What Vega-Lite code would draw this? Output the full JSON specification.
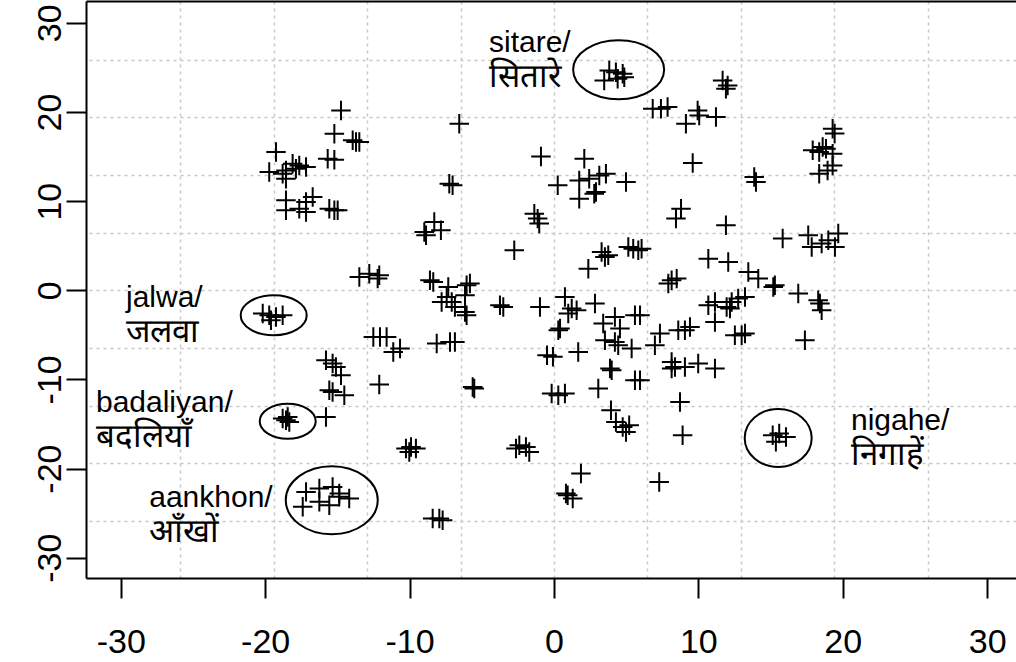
{
  "$schema": "https://vega.github.io/schema/vega-lite/v6.json",
  "width": 930,
  "height": 577,
  "autosize": {"type": "none"},
  "padding": {"left": 86, "top": 1, "right": 0, "bottom": 84},
  "background": "white",
  "config": {"view": {"stroke": null}, "font": "Liberation Sans"},
  "datasets": {
    "pts": [
      {"x": -14.75, "y": 20.18}, {"x": -15.21, "y": 17.57}, {"x": -13.94, "y": 16.82}, {"x": -13.71, "y": 16.63}, {"x": -13.48, "y": 16.63},
      {"x": -19.25, "y": 15.5}, {"x": -15.67, "y": 14.76}, {"x": -15.21, "y": 14.65}, {"x": -18.1, "y": 14.2}, {"x": -17.64, "y": 14.01},
      {"x": -17.17, "y": 13.82}, {"x": -18.56, "y": 13.45}, {"x": -17.87, "y": 13.64}, {"x": -19.72, "y": 13.26}, {"x": -18.79, "y": 13.08},
      {"x": -18.56, "y": 12.52}, {"x": -18.56, "y": 10.09}, {"x": -17.17, "y": 9.9}, {"x": -16.71, "y": 10.46}, {"x": -17.64, "y": 9.16},
      {"x": -17.17, "y": 8.78}, {"x": -18.56, "y": 8.97}, {"x": -15.56, "y": 9.16}, {"x": -15.21, "y": 8.97}, {"x": -14.98, "y": 8.97},
      {"x": -6.56, "y": 18.69}, {"x": -0.9, "y": 15.02}, {"x": -7.25, "y": 11.96}, {"x": -7.02, "y": 11.77}, {"x": -1.36, "y": 8.6},
      {"x": -1.13, "y": 8.04}, {"x": -1.02, "y": 7.48}, {"x": -2.75, "y": 4.48}, {"x": -8.29, "y": 7.66}, {"x": -7.83, "y": 6.73},
      {"x": -8.86, "y": 6.17}, {"x": -8.98, "y": 6.54}, {"x": -13.48, "y": 1.49}, {"x": -12.79, "y": 1.87}, {"x": -12.1, "y": 1.68},
      {"x": -12.21, "y": 1.31}, {"x": -8.59, "y": 1.12}, {"x": -8.36, "y": 0.93}, {"x": -7.32, "y": 0.37}, {"x": -6.05, "y": 0.56},
      {"x": -5.82, "y": 0.75}, {"x": -7.43, "y": -0.75}, {"x": -7.78, "y": -1.31}, {"x": -7.08, "y": -1.31}, {"x": -6.86, "y": -1.87},
      {"x": -6.16, "y": -0.56}, {"x": -6.16, "y": -2.43}, {"x": -6.05, "y": -2.8}, {"x": -3.74, "y": -1.68}, {"x": -3.51, "y": -1.87},
      {"x": -0.97, "y": -1.87}, {"x": -12.51, "y": -5.24}, {"x": -12.05, "y": -5.24}, {"x": -11.59, "y": -5.24}, {"x": -10.66, "y": -6.54},
      {"x": -11.13, "y": -6.92}, {"x": -8.12, "y": -5.98}, {"x": -7.2, "y": -5.8}, {"x": -6.86, "y": -5.8}, {"x": -0.48, "y": -7.29},
      {"x": -0.07, "y": -7.46}, {"x": -20.17, "y": -2.61}, {"x": -19.72, "y": -2.8}, {"x": -19.25, "y": -2.99}, {"x": -18.79, "y": -2.8},
      {"x": -19.6, "y": -3.36}, {"x": -15.79, "y": -7.85}, {"x": -15.33, "y": -8.22}, {"x": -15.1, "y": -8.6}, {"x": -14.75, "y": -9.53},
      {"x": -12.1, "y": -10.57}, {"x": -5.63, "y": -10.84}, {"x": -5.52, "y": -11.02}, {"x": -15.56, "y": -11.21}, {"x": -15.33, "y": -11.4},
      {"x": -14.52, "y": -11.77}, {"x": -15.79, "y": -14.2}, {"x": -18.79, "y": -14.38}, {"x": -18.56, "y": -14.57}, {"x": -18.33, "y": -14.76},
      {"x": -18.44, "y": -14.2}, {"x": -10.25, "y": -17.75}, {"x": -9.9, "y": -17.57}, {"x": -9.56, "y": -17.75}, {"x": -10.02, "y": -18.13},
      {"x": -2.4, "y": -17.38}, {"x": -1.94, "y": -17.57}, {"x": -1.71, "y": -18.13}, {"x": -2.63, "y": -17.75}, {"x": -17.17, "y": -22.61},
      {"x": -16.25, "y": -22.23}, {"x": -15.33, "y": -22.05}, {"x": -14.87, "y": -22.79}, {"x": -14.18, "y": -23.35}, {"x": -17.4, "y": -24.29},
      {"x": -16.25, "y": -23.73}, {"x": -15.56, "y": -24.1}, {"x": -14.87, "y": -23.17}, {"x": -8.4, "y": -25.59}, {"x": -7.94, "y": -25.59},
      {"x": -7.71, "y": -25.78}, {"x": 3.83, "y": 24.66}, {"x": 4.29, "y": 24.47}, {"x": 4.76, "y": 24.29}, {"x": 3.48, "y": 23.54},
      {"x": 4.41, "y": 23.73}, {"x": 4.87, "y": 23.91}, {"x": 11.68, "y": 23.54}, {"x": 12.03, "y": 22.98}, {"x": 11.91, "y": 22.61},
      {"x": 6.84, "y": 20.37}, {"x": 7.41, "y": 20.37}, {"x": 7.87, "y": 20.55}, {"x": 9.95, "y": 20.18}, {"x": 10.06, "y": 19.62},
      {"x": 9.14, "y": 18.69}, {"x": 11.22, "y": 19.43}, {"x": 19.3, "y": 18.13}, {"x": 19.44, "y": 17.6}, {"x": 17.92, "y": 15.7},
      {"x": 18.37, "y": 15.5}, {"x": 18.84, "y": 15.89}, {"x": 19.3, "y": 15.33}, {"x": 18.61, "y": 16.07}, {"x": 19.3, "y": 14.01},
      {"x": 18.37, "y": 13.08}, {"x": 18.95, "y": 13.45}, {"x": 9.61, "y": 14.27}, {"x": 13.87, "y": 12.7}, {"x": 13.99, "y": 12.14},
      {"x": 2.1, "y": 14.76}, {"x": 1.75, "y": 12.33}, {"x": 2.44, "y": 12.52}, {"x": 3.14, "y": 12.89}, {"x": 3.6, "y": 13.08},
      {"x": 2.79, "y": 10.84}, {"x": 2.91, "y": 11.02}, {"x": 1.75, "y": 10.28}, {"x": 0.26, "y": 11.77}, {"x": 4.99, "y": 12.14},
      {"x": 8.8, "y": 9.16}, {"x": 8.45, "y": 8.04}, {"x": 11.91, "y": 7.29}, {"x": 15.84, "y": 5.8}, {"x": 17.61, "y": 6.17},
      {"x": 17.85, "y": 4.85}, {"x": 18.54, "y": 5.24}, {"x": 19.0, "y": 5.61}, {"x": 19.46, "y": 4.85}, {"x": 19.69, "y": 6.36},
      {"x": 3.3, "y": 4.29}, {"x": 3.53, "y": 3.73}, {"x": 3.76, "y": 3.92}, {"x": 2.38, "y": 2.43}, {"x": 5.15, "y": 4.85},
      {"x": 5.49, "y": 4.67}, {"x": 5.84, "y": 4.48}, {"x": 6.07, "y": 4.67}, {"x": 10.69, "y": 3.55}, {"x": 12.07, "y": 3.17},
      {"x": 8.15, "y": 1.12}, {"x": 8.5, "y": 1.31}, {"x": 7.92, "y": 0.75}, {"x": 13.46, "y": 2.05}, {"x": 14.15, "y": 1.31},
      {"x": 15.3, "y": 0.56}, {"x": 15.19, "y": 0.37}, {"x": 16.92, "y": -0.37}, {"x": 18.3, "y": -1.12}, {"x": 18.42, "y": -1.49},
      {"x": 18.54, "y": -2.24}, {"x": 17.38, "y": -5.61}, {"x": 0.76, "y": -0.75}, {"x": 1.23, "y": -2.05}, {"x": 1.57, "y": -2.24},
      {"x": 0.99, "y": -2.61}, {"x": 0.42, "y": -4.29}, {"x": 0.3, "y": -4.48}, {"x": 2.84, "y": -1.49}, {"x": 3.41, "y": -3.73},
      {"x": 4.22, "y": -2.99}, {"x": 4.57, "y": -4.29}, {"x": 5.61, "y": -2.8}, {"x": 5.96, "y": -2.8}, {"x": 3.53, "y": -5.61},
      {"x": 4.22, "y": -5.8}, {"x": 4.45, "y": -6.17}, {"x": 5.38, "y": -6.54}, {"x": 6.99, "y": -6.17}, {"x": 7.34, "y": -4.85},
      {"x": 8.61, "y": -4.48}, {"x": 9.07, "y": -4.48}, {"x": 9.42, "y": -4.11}, {"x": 10.69, "y": -1.68}, {"x": 11.15, "y": -1.31},
      {"x": 11.15, "y": -3.55}, {"x": 11.96, "y": -1.87}, {"x": 12.19, "y": -2.05}, {"x": 12.31, "y": -1.31}, {"x": 12.76, "y": -0.93},
      {"x": 13.23, "y": -0.75}, {"x": 12.53, "y": -5.04}, {"x": 13.0, "y": -5.04}, {"x": 13.23, "y": -4.85}, {"x": 1.68, "y": -6.92},
      {"x": 3.88, "y": -8.78}, {"x": 4.0, "y": -8.97}, {"x": 5.61, "y": -10.09}, {"x": 5.96, "y": -10.09}, {"x": 3.07, "y": -11.02},
      {"x": -0.16, "y": -11.58}, {"x": 0.3, "y": -11.77}, {"x": 0.76, "y": -11.58}, {"x": 8.15, "y": -8.04}, {"x": 8.38, "y": -8.6},
      {"x": 8.15, "y": -8.78}, {"x": 9.07, "y": -8.6}, {"x": 9.99, "y": -8.22}, {"x": 11.15, "y": -8.78}, {"x": 8.73, "y": -12.52},
      {"x": 8.91, "y": -16.26}, {"x": 3.95, "y": -13.45}, {"x": 4.29, "y": -14.76}, {"x": 4.76, "y": -15.33}, {"x": 5.21, "y": -15.13},
      {"x": 4.99, "y": -15.89}, {"x": 15.15, "y": -16.26}, {"x": 15.6, "y": -16.07}, {"x": 16.07, "y": -16.45}, {"x": 15.37, "y": -17.0},
      {"x": 1.87, "y": -20.55}, {"x": 0.83, "y": -22.79}, {"x": 1.3, "y": -23.35}, {"x": 0.95, "y": -22.98}, {"x": 7.29, "y": -21.49}
    ],
    "circles": [
      {"word": "sitare", "x": 4.48, "y": 24.74},
      {"word": "jalwa", "x": -19.41, "y": -2.8},
      {"word": "badaliyan", "x": -18.44, "y": -14.69},
      {"word": "aankhon", "x": -15.39, "y": -23.54},
      {"word": "nigahe", "x": 15.53, "y": -16.56}
    ],
    "labels": [
      {"word": "sitare", "en": "sitare/", "hi": "सितारे", "x": -4.5, "y": 26.72},
      {"word": "jalwa", "en": "jalwa/", "hi": "जलवा", "x": -29.64, "y": -1.87},
      {"word": "badaliyan", "en": "badaliyan/", "hi": "बदलियाँ", "x": -31.72, "y": -13.64},
      {"word": "aankhon", "en": "aankhon/", "hi": "आँखों", "x": -28.03, "y": -24.29},
      {"word": "nigahe", "en": "nigahe/", "hi": "निगाहें", "x": 20.57, "y": -15.7}
    ]
  },
  "resolve": {"axis": {"x": "independent", "y": "independent"}},
  "layer": [
    {
      "data": {"name": "circles"},
      "transform": [{"filter": "datum.word === 'sitare'"}],
      "mark": {"type": "point", "shape": "M1,0C1,0.358 0.5523,0.648 0,0.648C-0.5523,0.648 -1,0.358 -1,0C-1,-0.358 -0.5523,-0.648 0,-0.648C0.5523,-0.648 1,-0.358 1,0Z", "size": 8281, "filled": false, "color": "black", "strokeWidth": 2, "opacity": 1},
      "encoding": {
        "x": {"field": "x", "type": "quantitative", "scale": {"domain": [-32.41, 32.0], "nice": false, "zero": false},
          "axis": {"orient": "top", "values": [-25.88, -19.41, -12.94, -6.47, 0, 6.47, 12.94, 19.41, 25.88], "grid": true, "gridColor": "#c8c8c8", "gridDash": [3, 4], "gridWidth": 1.5, "gridOpacity": 1, "labels": false, "ticks": false, "domain": true, "domainColor": "black", "domainWidth": 2, "title": null}},
        "y": {"field": "y", "type": "quantitative", "scale": {"domain": [-32.27, 32.45], "nice": false, "zero": false},
          "axis": {"orient": "right", "values": [-25.88, -19.41, -12.94, -6.47, 0, 6.47, 12.94, 19.41, 25.88], "grid": true, "gridColor": "#c8c8c8", "gridDash": [3, 4], "gridWidth": 1.5, "gridOpacity": 1, "labels": false, "ticks": false, "domain": false, "title": null}}
      }
    },
    {
      "data": {"name": "pts"},
      "mark": {"type": "point", "shape": "M-1,0H1M0,-1V1", "size": 380, "filled": false, "color": "black", "strokeWidth": 2, "opacity": 1},
      "encoding": {
        "x": {"field": "x", "type": "quantitative", "scale": {"domain": [-32.41, 32.0], "nice": false, "zero": false},
          "axis": {"orient": "bottom", "values": [-30, -20, -10, 0, 10, 20, 30], "labelExpr": "'' + datum.value", "grid": false, "title": null, "domainColor": "black", "domainWidth": 2, "tickColor": "black", "tickWidth": 2, "tickSize": 20, "labelFont": "Liberation Sans", "labelFontSize": 34, "labelColor": "black", "labelBaseline": "alphabetic", "labelPadding": 54, "labelFlush": false, "labelOverlap": false}},
        "y": {"field": "y", "type": "quantitative", "scale": {"domain": [-32.27, 32.45], "nice": false, "zero": false},
          "axis": {"orient": "left", "values": [-30, -20, -10, 0, 10, 20, 30], "labelExpr": "'' + datum.value", "grid": false, "title": null, "domainColor": "black", "domainWidth": 2, "tickColor": "black", "tickWidth": 2, "tickSize": 20, "labelFont": "Liberation Sans", "labelFontSize": 34, "labelColor": "black", "labelAngle": 270, "labelAlign": "center", "labelBaseline": "alphabetic", "labelPadding": 6, "labelFlush": false, "labelOverlap": false}}
      }
    },
    {
      "data": {"name": "circles"},
      "transform": [{"filter": "datum.word === 'jalwa'"}],
      "mark": {"type": "point", "shape": "M1,0C1,0.335 0.5523,0.606 0,0.606C-0.5523,0.606 -1,0.335 -1,0C-1,-0.335 -0.5523,-0.606 0,-0.606C0.5523,-0.606 1,-0.335 1,0Z", "size": 4356, "filled": false, "color": "black", "strokeWidth": 2, "opacity": 1},
      "encoding": {
        "x": {"field": "x", "type": "quantitative", "scale": {"domain": [-32.41, 32.0], "nice": false, "zero": false}, "axis": null},
        "y": {"field": "y", "type": "quantitative", "scale": {"domain": [-32.27, 32.45], "nice": false, "zero": false}, "axis": null}
      }
    },
    {
      "data": {"name": "circles"},
      "transform": [{"filter": "datum.word === 'badaliyan'"}],
      "mark": {"type": "point", "shape": "M1,0C1,0.345 0.5523,0.625 0,0.625C-0.5523,0.625 -1,0.345 -1,0C-1,-0.345 -0.5523,-0.625 0,-0.625C0.5523,-0.625 1,-0.345 1,0Z", "size": 3136, "filled": false, "color": "black", "strokeWidth": 2, "opacity": 1},
      "encoding": {
        "x": {"field": "x", "type": "quantitative", "scale": {"domain": [-32.41, 32.0], "nice": false, "zero": false}, "axis": null},
        "y": {"field": "y", "type": "quantitative", "scale": {"domain": [-32.27, 32.45], "nice": false, "zero": false}, "axis": null}
      }
    },
    {
      "data": {"name": "circles"},
      "transform": [{"filter": "datum.word === 'aankhon'"}],
      "mark": {"type": "point", "shape": "M1,0C1,0.408 0.5523,0.739 0,0.739C-0.5523,0.739 -1,0.408 -1,0C-1,-0.408 -0.5523,-0.739 0,-0.739C0.5523,-0.739 1,-0.408 1,0Z", "size": 8464, "filled": false, "color": "black", "strokeWidth": 2, "opacity": 1},
      "encoding": {
        "x": {"field": "x", "type": "quantitative", "scale": {"domain": [-32.41, 32.0], "nice": false, "zero": false}, "axis": null},
        "y": {"field": "y", "type": "quantitative", "scale": {"domain": [-32.27, 32.45], "nice": false, "zero": false}, "axis": null}
      }
    },
    {
      "data": {"name": "circles"},
      "transform": [{"filter": "datum.word === 'nigahe'"}],
      "mark": {"type": "point", "shape": "M1,0C1,0.478 0.5523,0.866 0,0.866C-0.5523,0.866 -1,0.478 -1,0C-1,-0.478 -0.5523,-0.866 0,-0.866C0.5523,-0.866 1,-0.478 1,0Z", "size": 4489, "filled": false, "color": "black", "strokeWidth": 2, "opacity": 1},
      "encoding": {
        "x": {"field": "x", "type": "quantitative", "scale": {"domain": [-32.41, 32.0], "nice": false, "zero": false}, "axis": null},
        "y": {"field": "y", "type": "quantitative", "scale": {"domain": [-32.27, 32.45], "nice": false, "zero": false}, "axis": null}
      }
    },
    {
      "data": {"name": "labels"},
      "mark": {"type": "text", "align": "left", "baseline": "alphabetic", "font": "Liberation Sans", "fontSize": 30, "color": "black"},
      "encoding": {
        "x": {"field": "x", "type": "quantitative", "scale": {"domain": [-32.41, 32.0], "nice": false, "zero": false}, "axis": null},
        "y": {"field": "y", "type": "quantitative", "scale": {"domain": [-32.27, 32.45], "nice": false, "zero": false}, "axis": null},
        "text": {"field": "en"}
      }
    },
    {
      "data": {"name": "labels"},
      "mark": {"type": "text", "align": "left", "baseline": "alphabetic", "dy": 35, "font": "Liberation Sans", "fontSize": 33, "color": "black"},
      "encoding": {
        "x": {"field": "x", "type": "quantitative", "scale": {"domain": [-32.41, 32.0], "nice": false, "zero": false}, "axis": null},
        "y": {"field": "y", "type": "quantitative", "scale": {"domain": [-32.27, 32.45], "nice": false, "zero": false}, "axis": null},
        "text": {"field": "hi"}
      }
    }
  ]
}
